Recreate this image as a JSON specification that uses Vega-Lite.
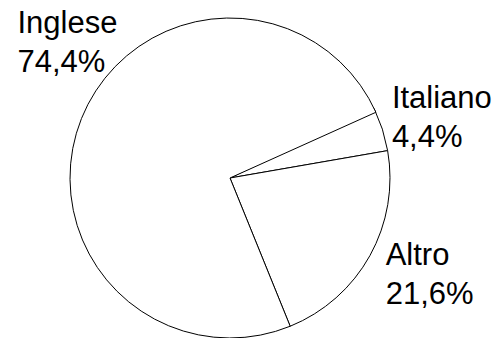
{
  "$schema": "https://vega.github.io/schema/vega-lite/v6.json",
  "width": 460,
  "height": 356,
  "autosize": {"type": "none"},
  "padding": {"left": 0, "top": 0, "right": 37, "bottom": 0},
  "background": "white",
  "config": {"view": {"stroke": null}},
  "data": {"values": [
    {"name": "Italiano", "value": 4.4, "pct": "4,4%"},
    {"name": "Altro", "value": 21.6, "pct": "21,6%"},
    {"name": "Inglese", "value": 74.4, "pct": "74,4%"}
  ]},
  "transform": [
    {"stack": "value", "groupby": [], "as": ["v0", "v1"]},
    {"calculate": "(datum.v0 + datum.v1) / 2", "as": "vmid"},
    {"calculate": "datum.name + '\\n' + datum.pct", "as": "label"}
  ],
  "layer": [
    {
      "mark": {"type": "arc", "outerRadius": 160, "fill": "white", "stroke": "black", "strokeWidth": 1},
      "encoding": {
        "theta": {"field": "v0", "type": "quantitative", "scale": {"domain": [0, 100], "range": [1.1223, 7.4055]}},
        "theta2": {"field": "v1"}
      }
    },
    {
      "transform": [{"filter": "datum.name == 'Italiano'"}],
      "mark": {"type": "text", "radius": 170, "align": "left", "baseline": "alphabetic", "dy": -18, "fontSize": 31, "font": "Liberation Sans", "lineBreak": "\n", "lineHeight": 39, "color": "black"},
      "encoding": {"theta": {"field": "vmid", "type": "quantitative"}, "text": {"field": "label"}}
    },
    {
      "transform": [{"filter": "datum.name == 'Altro'"}],
      "mark": {"type": "text", "radius": 178, "align": "left", "baseline": "alphabetic", "dy": 1, "fontSize": 31, "font": "Liberation Sans", "lineBreak": "\n", "lineHeight": 39, "color": "black"},
      "encoding": {"theta": {"field": "vmid", "type": "quantitative"}, "text": {"field": "label"}}
    },
    {
      "transform": [{"filter": "datum.name == 'Inglese'"}],
      "mark": {"type": "text", "radius": 229, "align": "left", "baseline": "alphabetic", "dy": -60, "fontSize": 31, "font": "Liberation Sans", "lineBreak": "\n", "lineHeight": 39, "color": "black"},
      "encoding": {"theta": {"field": "vmid", "type": "quantitative"}, "text": {"field": "label"}}
    }
  ]
}
